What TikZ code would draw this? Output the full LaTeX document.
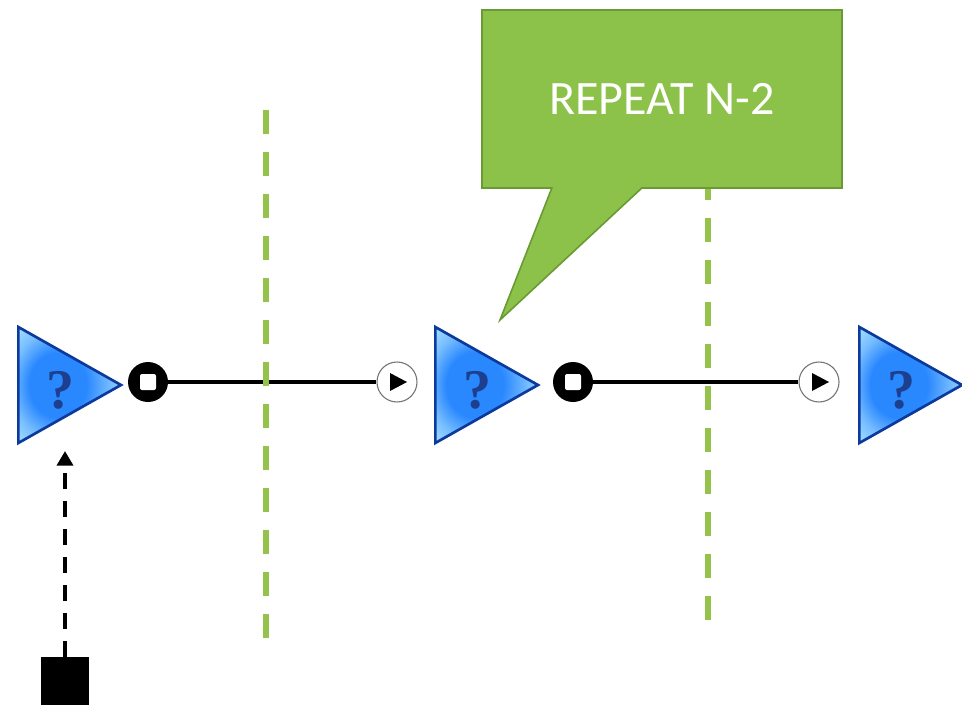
\documentclass[tikz,border=0pt]{standalone}
\usepackage{fontspec}
\newfontfamily\calloutfont{Carlito}
\newfontfamily\gatefont{Liberation Serif}
\usepackage{tikz}
\usetikzlibrary{positioning,arrows.meta,shapes.geometric,shapes.callouts}

\definecolor{gateblue}{HTML}{0B3A9C}
\definecolor{gatefill}{HTML}{2A88FF}
\definecolor{gatelight}{HTML}{A8E0FF}
\definecolor{qblue}{HTML}{1D3F8F}
\definecolor{sepgreen}{HTML}{94C24A}
\definecolor{callgreen}{HTML}{8CC14A}
\definecolor{calldark}{HTML}{6A9A34}
\pgfdeclareradialshading{gateshade}{\pgfpoint{-8bp}{0bp}}{%
    color(0bp)=(gatefill); color(14bp)=(gatefill);
    color(24bp)=(gatelight!60!gatefill); color(34bp)=(gatelight); color(50bp)=(gatelight)}

\tikzset{
    gate/.style={isosceles triangle, isosceles triangle apex angle=59,
        isosceles triangle stretches, minimum width=87pt, minimum height=77pt,
        inner sep=0pt, draw=gateblue, line width=2pt, shading=gateshade,
        label={[xshift=6pt, yshift=-4pt, text=qblue, font=\gatefont\bfseries\fontsize{42}{42}\selectfont]center:?}},
    stopport/.style={circle, fill=black, minimum size=30pt, inner sep=0pt,
        path picture={\fill[white, rounded corners=1.5pt]
            (path picture bounding box.center) +(-8,-8) rectangle +(8,8);}},
    playport/.style={circle, draw=black!55, line width=0.8pt, fill=white,
        minimum size=30pt, inner sep=0pt,
        path picture={\fill[black] (path picture bounding box.center)
            +(-7,-9) -- +(-7,9) -- +(10,0) -- cycle;}},
    wire/.style={line width=3pt},
    sep/.style={draw=sepgreen, line width=4.5pt, dash pattern=on 18pt off 13.5pt},
    trigger/.style={fill=black, minimum size=36pt, inner sep=0pt},
}

\begin{document}
\begin{tikzpicture}[x=0.75pt,y=-0.75pt]
    \useasboundingbox (0,0) rectangle (962,706);
    % blocks and ports
    \node[gate, anchor=lower side] (g1) at (17,385) {};
    \node[stopport] (s1) at (148,382) {};
    \node[playport] (p1) at (397,382) {};
    \node[gate, anchor=lower side] (g2) at (434,385) {};
    \node[stopport] (s2) at (573,382) {};
    \node[playport] (p2) at (819,382) {};
    \node[gate, anchor=lower side] (g3) at (858,385) {};
    \node[trigger] (start) at (65,681) {};
    \coordinate (g1in) at (65,451);

    \draw[wire] (s1) -- (p1);
    \draw[wire] (s2) -- (p2);
    \draw[line width=3pt, dash pattern=on 12pt off 9pt,
        -{Triangle[width=12pt,length=11pt]}] (start.north) -- (g1in);

    % loop boundaries
    \draw[sep] (266,110) -- (266,638);
    \draw[sep] (708,134) -- (708,620);

    \node[rectangle callout, callout absolute pointer={(500,320)},
        callout pointer width=67.5pt, fill=callgreen, draw=calldark, line width=1.2pt,
        minimum width=270pt, minimum height=133.5pt, text=white,
        font=\calloutfont\fontsize{36}{36}\selectfont] (note) at (662,99) {REPEAT N-2};
\end{tikzpicture}
\end{document}
